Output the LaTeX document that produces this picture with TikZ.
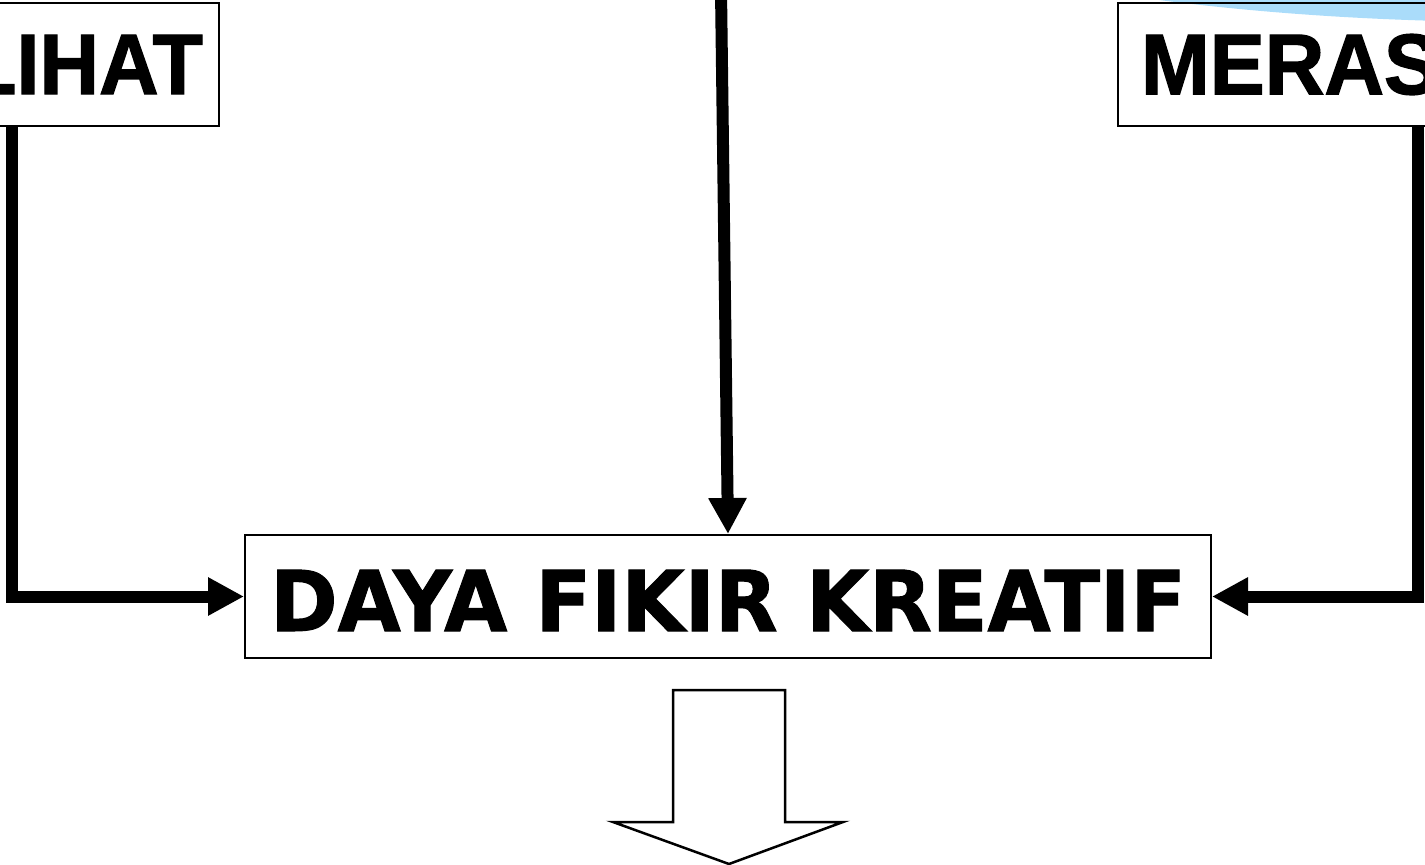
\documentclass[tikz,border=0pt]{standalone}
\usepackage{fontspec}
\usetikzlibrary{arrows.meta}
\newfontfamily\arialb{Liberation Sans Bold}[FakeStretch=0.96,FakeBold=1.5]
\newfontfamily\dayaf{DejaVu Sans Bold}[FakeStretch=0.97,FakeBold=1.2]
\definecolor{skyblue}{RGB}{170,220,250}
\begin{document}
\begin{tikzpicture}[x=1pt,y=-1pt,
  box/.style={draw,line width=2pt,inner sep=0pt,minimum height=123pt},
  bigtext/.style={font=\fontsize{86}{98}\arialb\selectfont},
  dayatext/.style={font=\fontsize{84}{96}\dayaf\selectfont},
  conn/.style={line width=12pt,line join=miter,-{Triangle[length=36pt,width=36pt]}},
  blockarrow/.style={draw,line width=2.5pt,line join=miter}]
\clip (0,0) rectangle (1425,865);
\fill[skyblue] (1520,-200) ellipse [x radius=830, y radius=222];
\node[box,bigtext,minimum width=269pt] (lihat) at (84.5,64.5) {LIHAT};
\node[box,bigtext,minimum width=344pt] (meras) at (1290,64.5) {MERAS};
\node[box,dayatext,minimum width=966pt,text height=69pt,text depth=0pt] (daya) at (728,596.5) {DAYA FIKIR KREATIF};
\coordinate (lx) at (12,0);
\coordinate (rx) at (1418,0);
\coordinate (top) at (721,-10);
\draw[conn] (lihat.south -| lx) |- (daya.west);
\draw[conn] (meras.south -| rx) |- (daya.east);
\draw[conn] (top) -- (daya.north);
\draw[blockarrow] (673,690) -- (785,690) -- (785,822) -- (843,822) -- (729,864) -- (613,822) -- (673,822) -- cycle;
\end{tikzpicture}
\end{document}
